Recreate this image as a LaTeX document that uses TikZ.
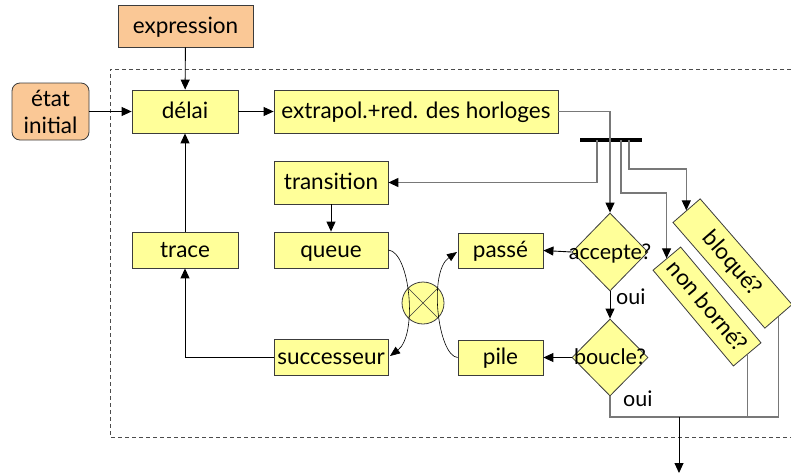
\documentclass[tikz,border=0pt]{standalone}
\usepackage{fontspec}
\setmainfont{Lato}
\usetikzlibrary{arrows.meta,shapes.geometric,calc}
\definecolor{boxyellow}{RGB}{255,255,153}
\definecolor{boxorange}{RGB}{250,200,150}
\definecolor{edgegray}{RGB}{60,60,60}
\definecolor{wiregray}{RGB}{120,120,120}
\tikzset{
  every node/.style={font=\fontsize{22.5}{26}\selectfont},
  oneline/.style={text height=18pt, text depth=4pt},
  stepbox/.style={draw=edgegray, line width=0.8pt, fill=boxyellow, inner sep=0pt, oneline},
  inbox/.style={draw=edgegray, line width=0.8pt, fill=boxorange, inner sep=0pt},
  testbox/.style={diamond, draw=edgegray, line width=0.8pt, fill=boxyellow, inner sep=0pt, aspect=0.97},
  testlabel/.style={inner sep=0pt, oneline, font=\fontsize{21.5}{24}\selectfont},
  flow/.style={line width=0.9pt, -{Triangle[length=10pt,width=9pt]}},
  wire/.style={line width=1.2pt, draw=wiregray},
  wirearrow/.style={wire, -{Triangle[length=10pt,width=9pt,color=black]}},
  swap/.style={line width=0.6pt, -{Triangle[length=10pt,width=8pt]}},
  ouilabel/.style={font=\fontsize{21.5}{24}\selectfont, inner sep=0pt},
}
\begin{document}
\begin{tikzpicture}[x=1pt,y=-1pt]
\useasboundingbox (0,0) rectangle (791,474);

% frame of the analysis loop (open on the right)
\draw[dash pattern=on 4pt off 3pt, line width=0.9pt, draw=black!70]
  (791,69) -- (110,69) -- (110,437) -- (791,437);

% inputs
\node[inbox, oneline, minimum width=135pt, minimum height=42pt] (expr) at (185.5,26) {expression};
\node[inbox, rounded corners=8pt, minimum width=77pt, minimum height=57pt, align=center,
      font=\fontsize{22.5}{27}\selectfont] (init) at (50.5,111.5) {état\\initial};

% processing boxes
\node[stepbox, minimum width=106pt, minimum height=43pt] (delai) at (185,111.5) {délai};
\node[stepbox, minimum width=284pt, minimum height=43pt] (extra) at (416,111.5) {extrapol.+red. des horloges};
\node[stepbox, minimum width=114pt, minimum height=43pt] (trans) at (331,182.5) {transition};
\node[stepbox, minimum width=114pt, minimum height=36pt] (queue) at (331,250) {queue};
\node[stepbox, minimum width=106pt, minimum height=36pt] (trace) at (185,250) {trace};
\node[stepbox, minimum width=114pt, minimum height=36pt] (succ) at (331,357) {successeur};
\node[stepbox, minimum width=85pt, minimum height=35pt] (passe) at (500.5,250.5) {passé};
\node[stepbox, minimum width=85pt, minimum height=35pt] (pile) at (500.5,357.5) {pile};

% tests
\node[testbox, minimum width=76pt, minimum height=78pt] (acc) at (610,252) {};
\node[testlabel] (acct) at (acc.center) {accepte?};
\node[testbox, minimum width=76pt, minimum height=77pt] (bou) at (610,357.5) {};
\node[testlabel] (bout) at (bou.center) {boucle?};

% verdicts
\node[stepbox, rotate=-50, minimum width=125pt, minimum height=36pt] (nb) at (707,306.5) {non borné?};
\node[stepbox, rotate=-49, minimum width=140pt, minimum height=36pt] (bl) at (732.5,263.5) {bloqué?};

% exchange of queue and stack
\node[circle, draw=edgegray, line width=0.8pt, fill=boxyellow, minimum size=42pt, inner sep=0pt] (sw) at (423,303) {};
\draw[line width=0.6pt, edgegray] (sw.45) -- (sw.225) (sw.135) -- (sw.-45);

% fork bar
\coordinate (barL) at (580,140);
\coordinate (barR) at (642,140);
\coordinate (b1) at (597,140);
\coordinate (b2) at (621,140);
\coordinate (b3) at (629,140);
\draw[line width=4pt] (barL) -- (barR);

% main flow
\draw[flow] (expr) -- (delai);
\draw[flow] (init) -- (delai);
\draw[flow] (delai) -- (extra);
\draw[flow] (trace) -- (delai);
\draw[flow] (succ.west) -| (trace.south);
\draw[flow] (trans) -- (queue);
\draw[wirearrow] (extra.east) -| (acc.north);
\draw[wirearrow] (b1) |- (trans.east);
\draw[wirearrow] (b2) -- ++(0,53) -| (nb.west);
\draw[wirearrow] (b3) -- ++(0,29) -| (bl.west);
\draw[flow] (acc.west) -- (passe.east);
\draw[flow] (bou.west) -- (pile.east);
\draw[flow] (acc.south) -- (bou.north);
\node[ouilabel, anchor=west] (oui1) at (616,297) {oui};
\node[ouilabel, anchor=west] (oui2) at (623,399) {oui};

% crossing curves through the exchange
\draw[swap] (queue.east) .. controls (410,252) and (418,335) .. (390,356);
\draw[swap] (pile.west) .. controls (438,356) and (428,272) .. (457,252);

% exits
\coordinate (j) at (679,417);
\coordinate (out) at (679,473);
\draw[wire] (bou.south) |- (j);
\draw[wire] (nb.east) |- (j);
\draw[wire] (bl.east) |- (j);
\draw[flow] (j) -- (out);
\end{tikzpicture}
\end{document}
